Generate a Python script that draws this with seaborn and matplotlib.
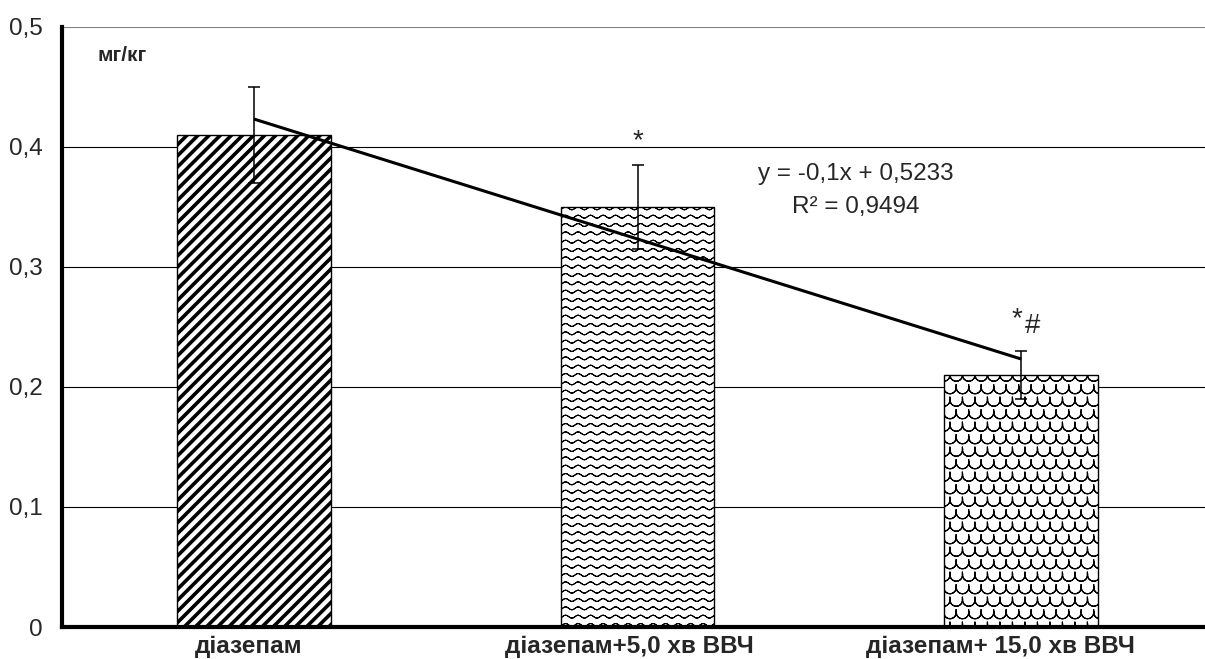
import warnings
import numpy as np
import matplotlib
matplotlib.use("Agg")
import matplotlib.pyplot as plt
import matplotlib.hatch as mhatch
import matplotlib.transforms as mtransforms
from matplotlib.path import Path
from matplotlib.ticker import FixedLocator, FuncFormatter
import seaborn as sns

warnings.filterwarnings("ignore")

# ---------------- data ----------------
categories = ["діазепам", "діазепам+5,0 хв ВВЧ", "діазепам+ 15,0 хв ВВЧ"]
values = [0.41, 0.35, 0.21]
errors = [0.04, 0.035, 0.02]
y_label = "мг/кг"
y_ticks = [0.0, 0.1, 0.2, 0.3, 0.4, 0.5]
hatches = ["d", "w", "s"]


# ---------------- custom hatch patterns ----------------
# Agg fills hatch paths, so every stroke is traced forward and back
# (zero-area outline) to keep it a pure line.
def _retrace(xy):
    return np.vstack([xy, xy[::-1]])


class DiagHatch(mhatch.HatchPatternBase):
    def __init__(self, hatch, density):
        self.n = hatch.count("d") * 9
        self.num_vertices = (2 * self.n + 1) * 2 if self.n else 0

    def set_vertices_and_codes(self, vertices, codes):
        c = np.arange(-self.n, self.n + 1) / self.n
        vertices[0::2, 0] = c
        vertices[0::2, 1] = 0.0
        vertices[1::2, 0] = c + 1.0
        vertices[1::2, 1] = 1.0
        codes[0::2] = Path.MOVETO
        codes[1::2] = Path.LINETO


class WaveHatch(mhatch.HatchPatternBase):
    def __init__(self, hatch, density):
        k = hatch.count("w")
        self.rows = 12 * k
        self.cycles = 8
        self.pts = self.cycles * 8 + 1
        self.num_vertices = (self.rows + 1) * self.pts * 2 if k else 0

    def set_vertices_and_codes(self, vertices, codes):
        xs = np.linspace(0, 1, self.pts)
        amp = 0.015
        n = 2 * self.pts
        for i in range(self.rows + 1):
            y0 = i / self.rows
            xy = np.column_stack([xs, y0 + amp * np.sin(2 * np.pi * self.cycles * xs)])
            vertices[i * n:(i + 1) * n] = _retrace(xy)
            codes[i * n:(i + 1) * n] = Path.LINETO
            codes[i * n] = Path.MOVETO


class ScaleHatch(mhatch.HatchPatternBase):
    def __init__(self, hatch, density):
        k = hatch.count("s")
        self.rows = 8 * k
        self.cols = 8
        self.apts = 13
        self.num_vertices = (self.rows + 1) * (self.cols + 2) * self.apts * 2 if k else 0

    def set_vertices_and_codes(self, vertices, codes):
        r = 0.5 / self.cols
        ang = np.linspace(np.pi * 0.95, 2.05 * np.pi, self.apts)
        n = 2 * self.apts
        idx = 0
        for i in range(self.rows + 1):
            y0 = i / self.rows
            off = 0.0 if i % 2 == 0 else 0.5
            for j in range(-1, self.cols + 1):
                cx = (j + off + 0.5) / self.cols
                xy = np.column_stack([cx + r * np.cos(ang), y0 + 1.0 * r * np.sin(ang)])
                vertices[idx:idx + n] = _retrace(xy)
                codes[idx:idx + n] = Path.LINETO
                codes[idx] = Path.MOVETO
                idx += n


mhatch._hatch_types.extend([DiagHatch, WaveHatch, ScaleHatch])

# ---------------- styling ----------------
sns.set_style("white")
plt.rcParams["font.family"] = ["Liberation Sans", "DejaVu Sans"]

FS = 17.5

fig = plt.figure(figsize=(12.05, 6.59), dpi=100)
ax = fig.add_axes([62 / 1205, 32 / 659, (1213 - 62) / 1205, 600 / 659])

sns.barplot(x=categories, y=values, ax=ax, color="white", saturation=1,
            edgecolor="black", linewidth=1.0, width=0.4, errorbar=None, zorder=2)

hatch_lw = [2.6, 0.75, 0.85]
for patch, h, lw in zip(ax.patches, hatches, hatch_lw):
    patch.set_hatch(h)
    patch.set_edgecolor("black")
    if hasattr(patch, "set_hatch_linewidth"):
        patch.set_hatch_linewidth(lw)

xpos = np.arange(len(values))
ax.errorbar(xpos, values, yerr=errors, fmt="none", ecolor="black",
            elinewidth=1.1, capsize=4, capthick=1.1, zorder=4)

# linear trend (Excel style, x = 1..n)
xn = np.arange(1, len(values) + 1)
slope, intercept = np.polyfit(xn, values, 1)
fit = slope * xn + intercept
r2 = 1 - np.sum((np.array(values) - fit) ** 2) / np.sum((np.array(values) - np.mean(values)) ** 2)
ax.plot(xpos, fit, color="black", lw=2.2, zorder=5, solid_capstyle="butt")


def fmt(v, nd):
    return f"{v:.{nd}f}".replace(".", ",")


ax.text(1.569, 0.3725, f"y = {fmt(slope, 1)}x + {fmt(intercept, 4)}",
        ha="center", va="baseline", fontsize=FS)
ax.text(1.569, 0.345, f"R² = {fmt(r2, 4)}", ha="center", va="baseline", fontsize=FS)

# significance markers
ax.text(1.0, 0.399, "*", ha="center", va="baseline", fontsize=20)
ax.text(1.988, 0.251, "*", ha="center", va="baseline", fontsize=20)
ax.text(2.030, 0.245, "#", ha="center", va="baseline", fontsize=20)

ax.text(0.031, 0.953, y_label, transform=ax.transAxes, ha="left", va="center",
        fontsize=15, fontweight="bold")

# axes
ax.set_ylim(0, 0.5)
ax.set_xlim(-0.5, 2.5)
ax.yaxis.set_major_locator(FixedLocator(y_ticks))
ax.yaxis.set_major_formatter(FuncFormatter(lambda v, p: "0" if abs(v) < 1e-9 else fmt(v, 1)))
ax.tick_params(axis="y", direction="out", length=3, width=3, pad=11, labelsize=FS, color="black")
ax.tick_params(axis="x", which="major", length=0, pad=6, labelsize=FS)
ax.set_xticks([0.5, 1.5], minor=True)
ax.tick_params(axis="x", which="minor", direction="out", length=3, width=3, color="black")

label_shift_px = [-5, -8, -21]
for lab, dx in zip(ax.get_xticklabels(), label_shift_px):
    lab.set_fontweight("bold")
    lab.set_transform(lab.get_transform() +
                      mtransforms.ScaledTranslation(dx / 100, 0, fig.dpi_scale_trans))

ax.yaxis.grid(True, color="black", lw=0.8, zorder=0)
ax.set_axisbelow(True)
ax.xaxis.grid(False)
gl = ax.get_ygridlines()
gl[-1].set_color("#808080")

for s in ["left", "bottom"]:
    ax.spines[s].set_linewidth(3)
    ax.spines[s].set_color("black")
    ax.spines[s].set_zorder(6)
ax.spines["top"].set_visible(False)
ax.spines["right"].set_visible(False)
ax.set_xlabel("")
ax.set_ylabel("")

fig.savefig("out.png", dpi=100)
